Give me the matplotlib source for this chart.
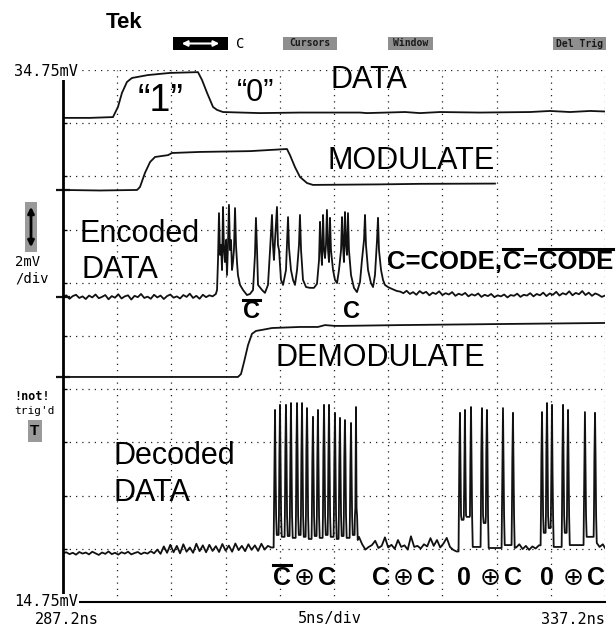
import numpy as np
import matplotlib
matplotlib.use("Agg")
import matplotlib.pyplot as plt
from matplotlib.lines import Line2D
from matplotlib.patches import Rectangle, FancyArrowPatch

# --- scope settings: 5 ns/div, 2 mV/div ---
t_start, t_stop = 287.2, 337.2
v_bot, v_top = 14.75, 34.75
t_ticks = np.linspace(t_start, t_stop, 11)
v_ticks = np.linspace(v_bot, v_top, 11)

# --- DATA trace (ns, mV) ---
data_t = [287.20, 289.69, 291.81, 292.27, 292.64, 293.10, 293.56, 295.04, 297.07,
          299.65, 300.03, 300.49, 301.04, 301.41, 301.96, 305.37, 309.06, 314.60,
          315.24, 318.75, 320.13, 321.97, 325.67, 330.28, 332.13, 333.97, 335.82, 337.20]
data_v = [32.95, 32.95, 32.98, 33.36, 33.89, 34.30, 34.45, 34.56, 34.64,
          34.67, 34.37, 33.89, 33.36, 33.25, 33.17, 33.13, 33.15, 33.15,
          33.13, 33.17, 33.13, 33.17, 33.15, 33.17, 33.21, 33.17, 33.21, 33.19]

# --- MODULATE trace ---
mod_t = [287.20, 290.61, 294.03, 294.30, 294.76, 295.23, 295.69, 296.89, 297.26, 299.84,
         304.45, 307.86, 308.14, 308.60, 309.06, 309.71, 310.26, 316.44, 320.13, 327.05]
mod_v = [30.24, 30.22, 30.24, 30.35, 30.88, 31.29, 31.48, 31.55, 31.63, 31.67,
         31.70, 31.78, 31.55, 31.10, 30.73, 30.50, 30.43, 30.45, 30.47, 30.48]

# --- Encoded DATA trace ---
enc_pre_v = [26.20, 26.28, 26.15, 26.25, 26.30, 26.18, 26.24, 26.14, 26.27, 26.20, 26.31, 26.17,
             26.22, 26.29, 26.13, 26.25, 26.19, 26.32, 26.16, 26.24, 26.28, 26.12, 26.26, 26.21,
             26.33, 26.18, 26.23, 26.15, 26.30, 26.20, 26.27, 26.14, 26.25, 26.31, 26.19, 26.24,
             26.16, 26.29, 26.22, 26.34, 26.18, 26.26, 26.15, 26.30, 26.21, 26.28, 26.24, 26.33]
enc_burst_t = [301.41, 301.50, 301.59, 301.68, 301.78, 301.87, 301.96, 302.05, 302.14, 302.24,
               302.33, 302.42, 302.51, 302.61, 302.70, 302.79, 302.88, 302.97, 303.07, 303.16,
               303.25, 303.34, 303.53, 303.81, 304.17, 304.45, 304.73, 304.91, 305.00, 305.10,
               305.19, 305.56, 305.83, 306.11, 306.30, 306.48, 306.57, 306.66, 306.76, 306.94,
               307.03, 307.13, 307.31, 307.50, 307.77, 307.86, 307.96, 308.05, 308.23, 308.42,
               308.60, 308.79, 308.97, 309.06, 309.16, 309.34, 309.62, 309.99, 310.35, 310.63,
               310.82, 310.91, 311.00, 311.09, 311.19, 311.28, 311.37, 311.46, 311.55, 311.65,
               311.74, 311.83, 311.92, 312.11, 312.29, 312.48, 312.66, 312.85, 312.94, 313.03,
               313.12, 313.21, 313.31, 313.40, 313.49, 313.58, 313.77, 314.04, 314.32, 314.60,
               314.78, 314.97, 315.06, 315.15, 315.34, 315.61, 315.80, 315.98, 316.17, 316.26,
               316.35, 316.54, 316.72, 316.90, 317.18, 317.55, 318.01]
enc_burst_v = [26.48, 27.61, 29.37, 27.80, 28.17, 27.23, 29.60, 27.98, 27.53, 28.36,
               27.04, 28.17, 29.68, 27.98, 28.36, 27.23, 27.53, 27.98, 29.56, 28.17,
               27.53, 27.04, 26.67, 26.48, 26.29, 26.33, 26.48, 27.80, 29.19, 27.98,
               26.67, 26.48, 26.37, 26.67, 27.98, 29.30, 28.17, 27.61, 28.36, 29.60,
               28.17, 27.98, 26.86, 26.67, 27.23, 28.17, 29.22, 28.06, 27.23, 26.86,
               26.67, 27.23, 28.17, 29.30, 27.98, 26.86, 26.59, 26.56, 26.56, 26.71,
               27.61, 29.04, 27.98, 27.42, 29.30, 27.98, 27.68, 28.17, 29.49, 27.98,
               27.53, 29.19, 27.98, 27.23, 26.86, 26.74, 27.23, 27.98, 29.22, 28.17,
               27.53, 29.41, 28.17, 27.80, 29.37, 27.98, 27.04, 26.56, 26.40, 26.78,
               27.61, 28.36, 29.30, 28.17, 27.23, 26.74, 26.59, 27.04, 28.36, 29.19,
               27.98, 27.23, 26.86, 26.67, 26.59, 26.52, 26.44]
enc_post_v = [26.42, 26.36, 26.45, 26.33, 26.40, 26.30, 26.44, 26.35, 26.41, 26.28, 26.38, 26.33,
              26.43, 26.29, 26.36, 26.31, 26.40, 26.26, 26.34, 26.29, 26.37, 26.24, 26.32, 26.27,
              26.35, 26.22, 26.30, 26.25, 26.33, 26.21, 26.28, 26.24, 26.31, 26.20, 26.29, 26.26,
              26.34, 26.22, 26.30, 26.27, 26.36, 26.24, 26.33, 26.28, 26.38, 26.25, 26.35, 26.30,
              26.41, 26.27, 26.36, 26.31, 26.43, 26.28, 26.37, 26.32, 26.44, 26.29, 26.38, 26.26,
              26.35, 26.30, 26.22, 26.27]

# --- DEMODULATE trace ---
dem_t = [287.20, 295.23, 303.34, 303.62, 303.90, 304.27, 304.63, 305.00, 305.56,
         306.48, 309.06, 310.72, 311.37, 312.29, 313.03, 318.29, 327.51, 337.20]
dem_v = [23.21, 23.21, 23.21, 23.32, 23.77, 24.41, 24.83, 24.94, 24.98,
         25.05, 25.09, 25.09, 25.16, 25.13, 25.13, 25.16, 25.20, 25.24]

# --- Decoded DATA trace ---
dec_pre_v = [16.58, 16.62, 16.55, 16.60, 16.53, 16.63, 16.57, 16.61, 16.54, 16.64, 16.58, 16.52,
             16.61, 16.56, 16.65, 16.55, 16.60, 16.53, 16.62, 16.57, 16.64, 16.54, 16.59, 16.63,
             16.55, 16.61, 16.57, 16.66, 16.58,
             16.72, 16.56, 16.84, 16.60, 16.90, 16.62, 16.86, 16.58, 16.92, 16.64, 16.80, 16.60,
             16.94, 16.66, 16.88, 16.62, 16.90, 16.67, 16.85, 16.63, 16.93, 16.68, 16.87, 16.64,
             16.95, 16.70, 16.86, 16.66, 16.92, 16.71, 16.88, 16.67, 16.94, 16.72, 16.86, 16.80]
dec_p1_t = [306.76, 307.22, 307.77, 308.23, 308.79, 309.25, 309.71, 310.26,
            310.72, 311.28, 311.74, 312.29, 312.75, 313.21, 313.77, 314.23]
dec_p1_peak = [21.97, 22.16, 22.16, 22.23, 22.23, 22.23, 22.04, 21.71,
               21.97, 22.16, 22.16, 21.86, 21.67, 21.59, 21.48, 22.08]
dec_p1_mid = [19.64, 20.20, 20.39, 19.98, 20.39, 20.20, 20.47, 20.02,
              20.09, 20.35, 20.09, 20.02, 19.98, 20.16, 19.79, 18.29]
dec_p1_low = [17.27, 17.20, 17.23, 17.16, 17.27, 17.20, 17.12, 17.23,
              17.16, 17.27, 17.20, 17.12, 17.23, 17.16, 17.27, 17.08]
dec_gap1_v = [17.20, 16.92, 16.72, 16.82, 16.89, 17.05, 16.78, 16.86, 17.18, 16.80,
              16.90, 16.75, 17.08, 16.82, 16.88, 16.72, 17.22, 16.82, 16.86, 16.76,
              16.92, 16.84, 17.15, 16.86, 17.08, 16.80, 16.95, 17.16, 16.82, 16.71, 16.65]
dec_p2_t = [323.82, 324.28, 324.84, 325.85, 326.31, 327.79, 328.71]
dec_p2_peak = [21.86, 21.97, 22.08, 22.04, 21.97, 22.04, 21.86]
dec_p2_mid = [20.09, 19.71, 19.98, 20.35, 20.39, 19.90, 20.09]
dec_p2_low = [17.84, 17.95, 16.82, 17.72, 16.78, 16.89, 16.78]
dec_gap2_v = [16.80, 16.92, 16.74, 16.86, 16.71, 16.84, 16.76, 16.88]
dec_p3_t = [331.39, 331.85, 332.31, 333.33, 333.79, 335.35, 336.28]
dec_p3_peak = [21.89, 22.23, 22.16, 22.16, 21.97, 21.89, 21.86]
dec_p3_mid = [20.09, 20.39, 19.64, 20.20, 20.02, 19.79, 20.16]
dec_p3_low = [17.35, 17.53, 16.82, 17.35, 16.89, 17.20, 16.97]
dec_tail_t = [336.70, 337.00, 337.20]
dec_tail_v = [16.82, 16.92, 16.78]
dec_knee = 18.0

# ground markers on the left edge (MODULATE, Encoded, DEMODULATE)
ref_levels = [30.24, 26.22, 23.21]

W, H = 616, 630
MONO = "DejaVu Sans Mono"
SANS = ["Liberation Sans", "DejaVu Sans"]


def pulse_train(times, peaks, mids, lows, start, knee):
    xs, ys = [], []
    prev = start
    for t, pk, md, lo in zip(times, peaks, mids, lows):
        xs += [t - 0.13, t - 0.10, t - 0.06, t, t + 0.05, t + 0.10, t + 0.16]
        ys += [prev, knee, md, pk, md, knee, lo]
        prev = lo
    return xs, ys


fig = plt.figure(figsize=(W / 100, H / 100), dpi=100, facecolor="white")
ax = fig.add_axes([63 / W, 1 - 602 / H, 542 / W, 532 / H])
ax.set_xlim(t_start, t_stop)
ax.set_ylim(v_bot, v_top)
ax.set_xticks(t_ticks)
ax.set_yticks(v_ticks)
ax.set_xticklabels([])
ax.set_yticklabels([])
ax.tick_params(axis="x", length=0)
ax.tick_params(axis="y", direction="in", length=3, width=1)
ax.grid(True, color="#222222", linestyle=(0, (1, 4)), linewidth=0.9)
for s in ("top", "right"):
    ax.spines[s].set_visible(False)
ax.spines["left"].set_linewidth(2)
ax.spines["left"].set_bounds(14.98, 34.37)
ax.spines["bottom"].set_linewidth(1.5)
ax.spines["bottom"].set_bounds(288.5, t_stop)

lw = 1.3
col = "#111111"
ax.plot(data_t, data_v, color=col, lw=lw)
ax.plot(mod_t, mod_v, color=col, lw=lw)

enc_t = list(np.linspace(287.2, 301.3, len(enc_pre_v))) + enc_burst_t + \
    list(np.linspace(318.3, 337.2, len(enc_post_v)))
enc_v = enc_pre_v + enc_burst_v + enc_post_v
ax.plot(enc_t, enc_v, color=col, lw=lw)

ax.plot(dem_t, dem_v, color=col, lw=lw)

p1x, p1y = pulse_train(dec_p1_t, dec_p1_peak, dec_p1_mid, dec_p1_low, dec_pre_v[-1], dec_knee)
p2x, p2y = pulse_train(dec_p2_t, dec_p2_peak, dec_p2_mid, dec_p2_low, dec_gap1_v[-1], dec_knee)
p3x, p3y = pulse_train(dec_p3_t, dec_p3_peak, dec_p3_mid, dec_p3_low, dec_gap2_v[-1], dec_knee)
dec_t = list(np.linspace(287.2, 306.4, len(dec_pre_v))) + p1x + \
    list(np.linspace(314.5, 323.5, len(dec_gap1_v))) + p2x + \
    list(np.linspace(329.0, 331.1, len(dec_gap2_v))) + p3x + dec_tail_t
dec_v = dec_pre_v + p1y + dec_gap1_v + p2y + dec_gap2_v + p3y + dec_tail_v
ax.plot(dec_t, dec_v, color=col, lw=lw)

ax.plot([t_start] * len(ref_levels), ref_levels, ls="none", marker="_", ms=10,
        mew=1.6, color=col, clip_on=False)


# --- text helpers (positions in reference pixels, y from top) ---
def ftxt(x, y, s, **kw):
    kw.setdefault("va", "center")
    return fig.text(x / W, 1 - y / H, s, **kw)


def fbox(x0, y0, x1, y1, fc):
    fig.add_artist(Rectangle((x0 / W, 1 - y1 / H), (x1 - x0) / W, (y1 - y0) / H,
                             fc=fc, ec="none", transform=fig.transFigure))


renderer = fig.canvas.get_renderer()


def run(x, y, parts, size):
    cx = x
    for s, bar, wt, gap in parts:
        t = ftxt(cx, y, s, fontsize=size, fontweight=wt, family=SANS, ha="left")
        bb = t.get_window_extent(renderer)
        if bar:
            yb = bb.y1 + 1
            fig.add_artist(Line2D([bb.x0 / W, bb.x1 / W], [yb / H, yb / H],
                                  color="black", lw=2.2, transform=fig.transFigure))
        cx += bb.width + gap


# header
ftxt(106, 22, "Tek", fontsize=16, fontweight="bold", family=SANS, ha="left")
fbox(173, 37, 228, 50, "black")
fig.add_artist(FancyArrowPatch((179 / W, 1 - 43.5 / H), (222 / W, 1 - 43.5 / H),
                               arrowstyle="<|-|>", mutation_scale=8, color="white", lw=1.5,
                               transform=fig.transFigure))
ftxt(236, 43.5, "C", fontsize=10, family=MONO, ha="left")
for x0, x1, lab in [(283, 337, "Cursors"), (388, 433, "Window"), (553, 606, "Del Trig")]:
    fbox(x0, 37, x1, 50, "#8f8f8f")
    ftxt((x0 + x1) / 2, 43.5, lab, fontsize=7, family=MONO, fontweight="bold",
         ha="center", color="#1a1a1a")

# scope readouts
wb = dict(boxstyle="square,pad=0.05", fc="white", ec="none")
ftxt(14, 602, "14.75mV", fontsize=11, family=MONO, ha="left", bbox=wb)
ftxt(14, 72, "34.75mV", fontsize=11, family=MONO, ha="left", bbox=wb)
ftxt(35, 619, "287.2ns", fontsize=11, family=MONO, ha="left")
ftxt(330, 619, "5ns/div", fontsize=11, family=MONO, ha="center")
ftxt(605, 619, "337.2ns", fontsize=11, family=MONO, ha="right")
ftxt(15, 262, "2mV", fontsize=10, family=MONO, ha="left")
ftxt(15, 279, "/div", fontsize=10, family=MONO, ha="left")
ftxt(14, 396, "!not!", fontsize=8.5, family=MONO, fontweight="bold", ha="left")
ftxt(14, 411, "trig'd", fontsize=8, family=MONO, ha="left")

fbox(25, 202, 37, 252, "#9a9a9a")
fig.add_artist(FancyArrowPatch((31 / W, 1 - 250 / H), (31 / W, 1 - 204 / H),
                               arrowstyle="<|-|>", mutation_scale=9, color="black", lw=2,
                               transform=fig.transFigure))
fbox(28, 420, 42, 442, "#9a9a9a")
ftxt(35, 431, "T", fontsize=11, fontweight="bold", family=SANS, ha="center")

# trace labels
ftxt(161, 101, "\u201c1\u201d", fontsize=27, family=SANS, ha="center")
ftxt(256, 93, "\u201c0\u201d", fontsize=22, family=SANS, ha="center")
ftxt(369, 80, "DATA", fontsize=22, family=SANS, ha="center")
ftxt(411, 161, "MODULATE", fontsize=22, family=SANS, ha="center")
ftxt(80, 234, "Encoded", fontsize=22, family=SANS, ha="left")
ftxt(82, 270, "DATA", fontsize=22, family=SANS, ha="left")
ftxt(380, 358, "DEMODULATE", fontsize=22, family=SANS, ha="center")
ftxt(113, 456, "Decoded", fontsize=22, family=SANS, ha="left")
ftxt(113, 493, "DATA", fontsize=22, family=SANS, ha="left")

run(387, 262, [("C=CODE,", False, "bold", 1), ("C", True, "bold", 1),
               ("=", False, "bold", 1), ("CODE", True, "bold", 0)], 18.5)
run(243, 312, [("C", True, "bold", 0)], 17)
ftxt(351, 311, "C", fontsize=17, fontweight="bold", family=SANS, ha="center")

run(273, 578, [("C", True, "bold", 3), ("\u2295", False, "normal", 3), ("C", False, "bold", 0)], 18)
run(372, 578, [("C", False, "bold", 3), ("\u2295", False, "normal", 3), ("C", False, "bold", 0)], 18)
run(457, 578, [("0", False, "bold", 9), ("\u2295", False, "normal", 3), ("C", False, "bold", 0)], 18)
run(540, 578, [("0", False, "bold", 9), ("\u2295", False, "normal", 3), ("C", False, "bold", 0)], 18)

fig.savefig("out.png", dpi=100, facecolor="white")
